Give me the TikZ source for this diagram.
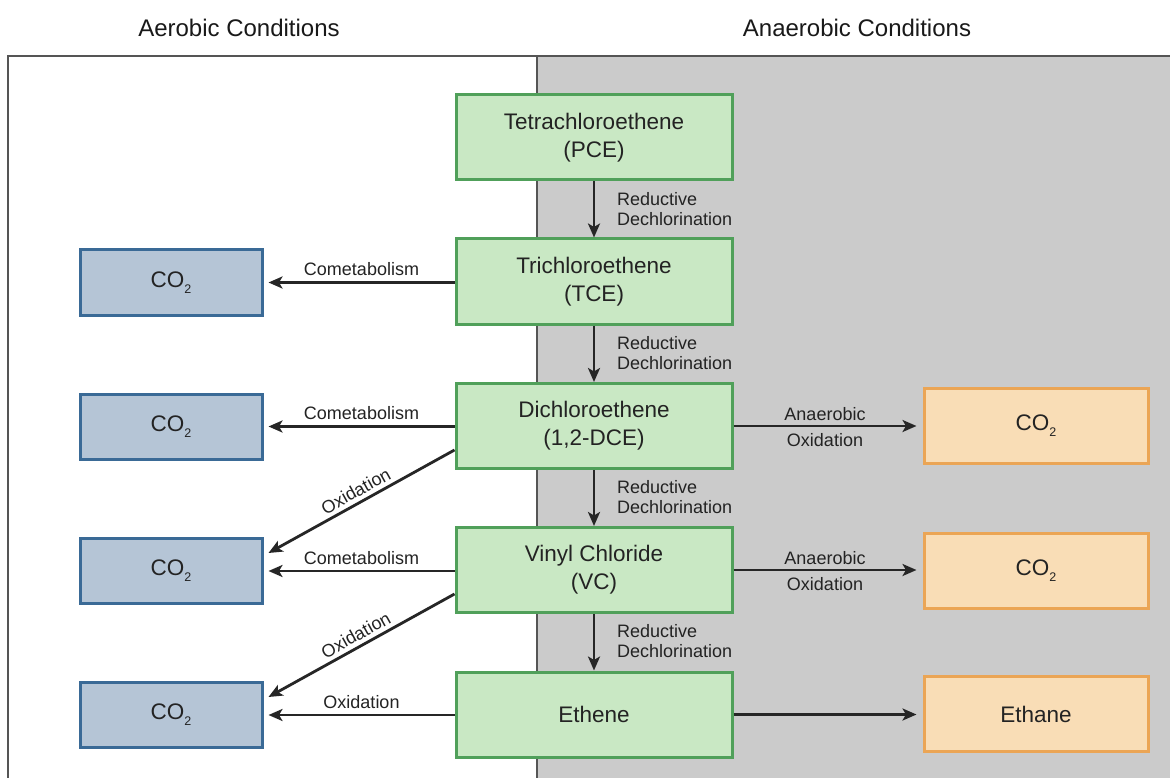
\documentclass[tikz,border=0pt]{standalone}
\usepackage{fontspec}
\setmainfont{Liberation Sans}
\usetikzlibrary{arrows.meta,calc}
\definecolor{gfill}{RGB}{201,232,196}
\definecolor{gdraw}{RGB}{80,160,90}
\definecolor{bfill}{RGB}{181,197,214}
\definecolor{bdraw}{RGB}{58,106,150}
\definecolor{ofill}{RGB}{249,221,182}
\definecolor{odraw}{RGB}{235,165,85}
\definecolor{bggray}{RGB}{203,203,203}
\definecolor{frame}{RGB}{85,85,85}
\definecolor{txt}{RGB}{35,35,35}
\newcommand\subtwo{\raisebox{-0.5ex}{\fontsize{12.5}{12.5}\selectfont 2}}
\tikzset{
  box/.style={draw, line width=3pt, minimum height=85pt, minimum width=276pt, align=center, text=txt, font=\fontsize{22.5}{28}\selectfont, inner sep=0pt},
  gbox/.style={box, fill=gfill, draw=gdraw},
  bbox/.style={box, fill=bfill, draw=bdraw, minimum width=182pt, minimum height=65pt},
  obox/.style={box, fill=ofill, draw=odraw, minimum width=224pt, minimum height=75pt},
  arr/.style={-{Stealth[length=14pt,width=12pt,inset=3.5pt]}, line width=2.8pt, draw=black!85},
  larr/.style={{Stealth[length=14pt,width=12pt,inset=3.5pt]}-, line width=2.8pt, draw=black!85},
  lbl/.style={font=\fontsize{18}{20}\selectfont, text=txt, inner sep=1pt},
  head/.style={font=\fontsize{24}{28}\selectfont, text=black!90}
}
\begin{document}
\begin{tikzpicture}[x=1pt,y=-1pt]
\useasboundingbox (0,0) rectangle (1170,778);
\fill[white] (0,0) rectangle (1170,778);
\fill[bggray] (537,56) rectangle (1172,780);
\draw[frame, line width=2.2pt] (8,780) -- (8,56) -- (1172,56);
\draw[frame, line width=2.2pt] (537,56) -- (537,780);

\node[head] (h1) at (239,28) {Aerobic Conditions};
\node[head] (h2) at (857,28) {Anaerobic Conditions};

\node[gbox] (pce) at (594,137.5) {Tetrachloroethene\\(PCE)};
\node[gbox] (tce) at (594,281.5) {Trichloroethene\\(TCE)};
\node[gbox] (dce) at (594,426) {Dichloroethene\\(1,2-DCE)};
\node[gbox] (vc) at (594,570) {Vinyl Chloride\\(VC)};
\node[gbox] (eth) at (594,714.5) {Ethene};

\node[bbox] (b1) at (171,282.5) {CO\subtwo};
\node[bbox] (b2) at (171,426.5) {CO\subtwo};
\node[bbox] (b3) at (171,571) {CO\subtwo};
\node[bbox] (b4) at (171,715) {CO\subtwo};

\node[obox] (o1) at (1036,425.5) {CO\subtwo};
\node[obox] (o2) at (1036,570.5) {CO\subtwo};
\node[obox] (o3) at (1036,714) {Ethane};

% reductive dechlorination
\foreach \a/\b/\y in {pce/tce/209, tce/dce/353, dce/vc/497, vc/eth/641}{
  \draw[arr] (\a.south) -- (\b.north);
  \node[lbl, anchor=west, align=left] at (616,\y) {Reductive\\Dechlorination};
}

% cometabolism / oxidation to the left
\draw[arr] (tce.west |- b1.east) -- ([xshift=5pt]b1.east) node[lbl, midway, above=4pt] {Cometabolism};
\draw[arr] (dce.west |- b2.east) -- ([xshift=5pt]b2.east) node[lbl, midway, above=4pt] {Cometabolism};
\draw[arr] (vc.west |- b3.east) -- ([xshift=5pt]b3.east) node[lbl, midway, above=4pt] {Cometabolism};
\draw[arr] (eth.west |- b4.east) -- ([xshift=5pt]b4.east) node[lbl, midway, above=4pt] {Oxidation};

\draw[larr] ([xshift=5pt,yshift=18pt]b3.east) -- ([yshift=-24pt]dce.west) node[lbl, midway, sloped, above=3pt] {Oxidation};
\draw[larr] ([xshift=5pt,yshift=18pt]b4.east) -- ([yshift=-24pt]vc.west) node[lbl, midway, sloped, above=3pt] {Oxidation};

% anaerobic oxidation
\draw[arr] (dce.east) -- ([xshift=-6pt]o1.west |- dce.east) node[lbl, midway, above=3pt] {Anaerobic} node[lbl, midway, below=5pt] {Oxidation};
\draw[arr] (vc.east) -- ([xshift=-6pt]o2.west |- vc.east) node[lbl, midway, above=3pt] {Anaerobic} node[lbl, midway, below=5pt] {Oxidation};
\draw[arr] (eth.east) -- ([xshift=-6pt]o3.west |- eth.east);
\end{tikzpicture}
\end{document}
